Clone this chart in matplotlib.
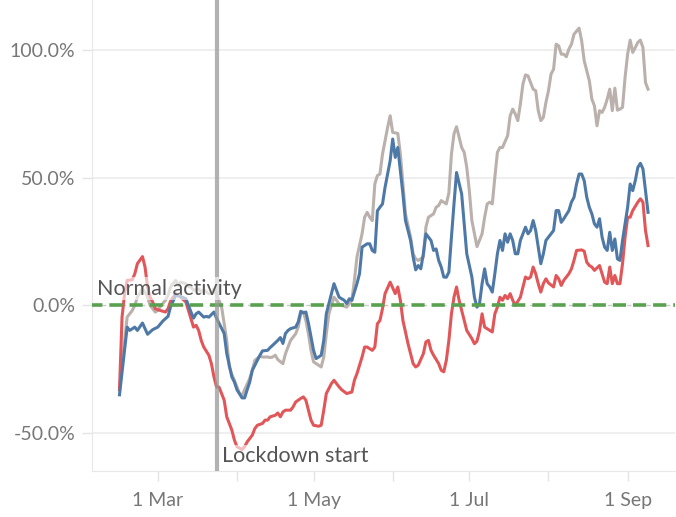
import numpy as np
import pandas as pd
import matplotlib
matplotlib.use("Agg")
import matplotlib.pyplot as plt
import matplotlib.dates as mdates

# ----------data: day of year 2020, change vs normal (%)----------
blue_days = [46, 49, 50, 52, 53, 55, 57, 59, 61, 63, 65, 66, 68, 70, 72, 73, 74, 75, 76, 77,
             79, 80, 81, 83, 84, 85, 87, 88, 90, 91, 92, 94, 95, 96, 97, 98, 100, 101, 102, 104,
             105, 106, 108, 109, 110, 111, 112, 113, 115, 116, 117, 118, 119, 120, 121, 122, 123, 124, 125, 126,
             127, 129, 130, 132, 134, 135, 136, 137, 139, 140, 141, 143, 144, 145, 146, 147, 148, 149, 150, 152,
             153, 154, 155, 156, 157, 158, 160, 161, 162, 163, 164, 165, 166, 168, 169, 170, 171, 172, 173, 174,
             175, 176, 177, 178, 180, 181, 182, 184, 185, 186, 187, 188, 189, 190, 191, 192, 193, 194, 195, 196,
             197, 198, 199, 200, 201, 202, 203, 205, 206, 207, 208, 209, 210, 211, 212, 213, 214, 216, 217, 218,
             219, 220, 222, 223, 224, 225, 226, 227, 228, 229, 230, 231, 232, 233, 234, 235, 236, 237, 238, 239,
             240, 241, 242, 243, 244, 245, 246, 247, 248, 249, 250, 251, 252, 253]
blue_vals = [-35, -8.5, -9.8, -8.5, -9.8, -6.9, -11.3, -9.5, -8.5, -6.1, -4.3, -0.6, 3.9, 3.5, 2.6, 0, -2.6, -5, -3.3, -2.6,
             -4.6, -4.3, -4.6, -2.6, -5, -7, -11, -18.8, -28, -30, -33, -36.2, -36.2, -33, -30, -25.4, -21.5, -19.5, -17.8, -17.6,
             -16.5, -15.6, -13.7, -12.6, -14.9, -11, -9.8, -9.1, -8.5, -6.5, -2.3, -2.9, -2.6, -7, -12.4, -17.6, -20.8, -20.2, -19.5, -13.7,
             -3.3, 4.6, 8.5, 3.2, 2, 0.7, 2.6, 2, 8.5, 12.4, 22.8, 24.1, 24.1, 21.5, 20.8, 37, 38.4, 39.7, 46.2, 56.6,
             65.1, 57.9, 61.8, 52.7, 43.6, 33.2, 25.4, 18.9, 13.9, 15.6, 14.3, 20.2, 28, 25.4, 21.5, 22.1, 17.6, 15, 11.1, 11,
             13, 26.7, 39.7, 52, 43.6, 31.9, 20.2, 11.1, 3.2, -0.7, 0.7, 8.5, 14.3, 8.5, 7.2, 5.2, 12.4, 20.2, 25.4, 21.5,
             28, 24.7, 28, 25.4, 20.2, 20.2, 25.4, 30.6, 28, 29.3, 33.2, 29.3, 22.8, 16.3, 20.2, 25.4, 26.7, 29.3, 37.1, 37.1,
             32.5, 33.9, 37.1, 40.4, 42.3, 47.5, 51.4, 51.4, 48.8, 42.3, 38.4, 35.8, 31.9, 30.6, 33.9, 26.7, 22.8, 21.5, 28.6, 21.5,
             26, 18.2, 17.6, 25.4, 31.9, 38.4, 47.5, 44.9, 48.8, 54, 55.6, 53.4, 44.9, 36.4]

red_days = [46, 47, 48, 49, 51, 52, 53, 55, 56, 57, 58, 59, 60, 62, 64, 65, 66, 68, 69, 70,
            72, 73, 74, 75, 76, 77, 78, 79, 81, 82, 83, 84, 85, 87, 88, 90, 91, 92, 94, 95,
            96, 98, 99, 100, 102, 103, 104, 105, 107, 108, 109, 110, 111, 113, 114, 115, 117, 118, 119, 120,
            121, 122, 124, 125, 126, 127, 129, 130, 132, 133, 135, 137, 138, 139, 141, 142, 143, 145, 146, 147,
            148, 149, 150, 152, 154, 155, 156, 157, 159, 160, 161, 162, 163, 165, 166, 167, 168, 169, 171, 172,
            173, 174, 175, 176, 177, 178, 179, 181, 182, 184, 185, 186, 187, 188, 189, 191, 192, 193, 194, 195,
            196, 197, 198, 199, 200, 201, 203, 204, 205, 206, 207, 208, 209, 210, 211, 212, 213, 214, 216, 217,
            218, 219, 220, 222, 223, 224, 225, 227, 228, 229, 230, 231, 232, 234, 235, 236, 237, 238, 239, 240,
            241, 242, 243, 244, 245, 246, 247, 249, 250, 251, 252, 253]
red_vals = [-33, -4.6, 4.6, 9.8, 10, 12.4, 16.3, 19.1, 15, 7.2, 3.2, 1.3, -1.3, -2, -2.6, -1.3, 1.7, 4.6, 3.9, 3.2,
            1.3, -2, -5.2, -8.5, -7.8, -9.8, -13.7, -16.3, -19.5, -22.8, -28, -31.9, -32, -37.1, -43.6, -48.8, -52.7, -55.3, -56.4, -55.3,
            -53.4, -50.8, -48.2, -46.9, -46.2, -44.9, -44.9, -43.6, -43, -42.1, -43.6, -41.7, -41, -41, -39.7, -37.8, -36.4, -35.8, -37.1, -41,
            -44.9, -46.9, -47.3, -46.9, -41, -34.5, -30.6, -29.3, -31.9, -33, -34.5, -33.9, -29.3, -26.7, -20.2, -16.3, -16.3, -17.6, -16.3, -7.2,
            -5.9, -1.3, 4.6, 9.1, 4.6, 7.2, 2, -5.9, -15, -18.9, -22.8, -24.1, -23.4, -18.9, -14.3, -13.7, -17.6, -19.5, -22.8, -25.4,
            -26, -21.5, -13.7, -3.3, 3.2, 7.2, 2, -5.9, -9.8, -13, -15, -14, -10, -3.3, -8.5, -9.8, -10.4, -3.3, -0.7, 3.2,
            2, 3.9, 2.6, 4.6, 2, 0, 3.2, 7.2, 11.1, 10.4, 11.1, 15, 12.4, 8.5, 5.2, 8.5, 10.4, 8.8, 7.2, 11.7,
            10.4, 7.8, 9.8, 12.4, 14.3, 17.6, 21.5, 21.7, 21.2, 16.9, 15.6, 15, 13.7, 15.6, 12.4, 9.1, 8.5, 15, 8.5, 11.7,
            8.5, 8.5, 16.3, 26.7, 34.5, 34.5, 37.1, 40.4, 41.7, 40.4, 29.3, 23.4]

grey_days = [46, 48, 49, 51, 52, 53, 55, 56, 57, 58, 60, 61, 62, 64, 65, 66, 68, 69, 70, 72,
             73, 74, 75, 77, 78, 79, 81, 82, 83, 85, 86, 87, 88, 89, 90, 91, 92, 93, 94, 95,
             97, 98, 99, 101, 102, 104, 105, 106, 107, 108, 110, 111, 112, 113, 115, 116, 117, 118, 119, 120,
             121, 122, 124, 125, 126, 127, 128, 130, 131, 132, 135, 137, 138, 139, 141, 142, 143, 144, 145, 146,
             147, 148, 149, 151, 152, 153, 155, 156, 157, 158, 160, 161, 162, 163, 165, 166, 167, 169, 170, 171,
             172, 174, 175, 176, 177, 178, 180, 181, 182, 183, 184, 186, 188, 189, 190, 191, 192, 193, 194, 195,
             196, 198, 199, 200, 201, 202, 203, 204, 205, 206, 208, 209, 210, 211, 212, 213, 214, 215, 216, 217,
             218, 219, 220, 221, 222, 223, 224, 226, 227, 228, 230, 231, 232, 233, 234, 235, 236, 237, 238, 239,
             240, 241, 242, 243, 244, 245, 246, 247, 248, 249, 250, 251, 252, 253]
grey_vals = [-33, -13.7, -4.6, -2, 0, 3.2, 6.5, 5.2, 3.2, 0, -2.6, -2, -0.4, 2, 3.9, 7.2, 9.8, 7.8, 9.1, 8.5,
             7.4, 7.2, 5.9, 6.5, 5.2, 6, 4.6, 4.6, 6.5, 2, -0.7, -7.2, -13.7, -24.1, -27, -29.3, -31.9, -34.5, -35.2, -33,
             -28.6, -25.4, -21.5, -19.9, -20.2, -20.2, -20.4, -20.2, -19.5, -21.2, -22.8, -18.9, -16.3, -13.7, -11.1, -8.5, -3.3, -2.6, -5.9, -11.1,
             -17.6, -22.1, -23.4, -24.1, -20.2, -11.1, -3.3, 3.2, 2, 0.5, -0.7, 2, 9.8, 18.9, 28, 34.5, 36.4, 34.5, 33.2, 47.5,
             50.8, 51.4, 59.2, 69.6, 74.2, 67.7, 67.3, 59.2, 47.5, 35.8, 26.7, 20.2, 18.2, 17.6, 18.9, 30.6, 34.5, 35.8, 38.4, 39.1,
             41, 39.7, 44, 59.2, 67.1, 69.9, 61.8, 59.9, 54, 44.9, 33.2, 23, 28, 34.5, 39.7, 40.4, 39.7, 50.1, 59.9, 61.8,
             61.8, 66.4, 74.2, 76.8, 74.9, 72.3, 78.8, 86.6, 90.2, 89.8, 84.6, 84, 76.2, 72.3, 73.6, 79.4, 84, 90.5, 92.4, 102.2,
             101.6, 98.3, 98.3, 97.3, 100.3, 102.2, 106.1, 108.5, 103.5, 95.7, 87.9, 80.7, 78.1, 70.3, 76.2, 75.5, 77.5, 80.7, 84.6, 76.2,
             85, 76.4, 76.8, 77.5, 89.2, 98.3, 103.8, 99, 100.9, 102.9, 103.8, 100.9, 87.2, 84.6]

lockdown_day = "2020-03-24"
y_ticks = [-50, 0, 50, 100]


def to_dates(days):
    """
    type days: list (day of year 2020)
    rtype: DatetimeIndex
    """
    return pd.Timestamp("2020-01-01") + pd.to_timedelta(np.array(days) - 1, unit="D")


def main():
    plt.rcParams['font.family'] = ['Lato', 'DejaVu Sans']
    plt.rcParams['lines.scale_dashes'] = False
    fig = plt.figure(figsize=(6.76, 5.17), dpi=100)
    ax = fig.add_axes([0.136, 0.089, 0.862, 0.911])

    # ----------grid and reference lines----------
    for v in y_ticks:
        if v != 0:
            ax.axhline(v, color='#ececec', lw=1.2, zorder=0)
    ax.axhline(0, color='#c8c8c8', lw=1, linestyle=(0, (3, 4)), zorder=1)
    ax.axhline(0, color='#59a14f', lw=2.6, linestyle=(2, (9.5, 5)), zorder=4)

    # ----------series----------
    ax.plot(to_dates(grey_days), grey_vals, color='#bab0ac', lw=2.2, zorder=2)
    ax.plot(to_dates(red_days), red_vals, color='#e15759', lw=2.2, zorder=2)
    ax.plot(to_dates(blue_days), blue_vals, color='#4e79a7', lw=2.2, zorder=3)

    ax.axvline(pd.Timestamp(lockdown_day), color='#999999', lw=3, alpha=0.75, zorder=5)

    # ----------labels----------
    box = dict(facecolor='white', edgecolor='none', alpha=0.6, pad=1)
    ax.text(pd.Timestamp("2020-02-06"), 6.5, "Normal activity", fontsize=15.5,
            color='#555555', va='center', ha='left', bbox=box, zorder=6)
    ax.text(pd.Timestamp("2020-03-26"), -59, "Lockdown start", fontsize=15.5,
            color='#555555', va='center', ha='left', bbox=box, zorder=6)

    # ----------axes----------
    ax.set_xlim(pd.Timestamp("2020-02-04 05:00"), pd.Timestamp("2020-09-19 10:00"))
    ax.set_ylim(-64.8, 119.5)
    ax.set_yticks(y_ticks)
    ax.set_yticklabels([f"{v:.1f}%" for v in y_ticks])
    ax.xaxis.set_major_locator(mdates.MonthLocator(bymonth=[3, 5, 7, 9]))
    ax.xaxis.set_minor_locator(mdates.MonthLocator())
    ax.xaxis.set_major_formatter(mdates.DateFormatter('%-d %b'))
    ax.tick_params(axis='both', which='both', color='#e4e4e4', labelcolor='#777777',
                   labelsize=14)
    ax.tick_params(axis='x', which='both', length=7, width=1, pad=8)
    ax.tick_params(axis='y', length=7, width=1, pad=5)
    for side in ['top', 'right']:
        ax.spines[side].set_visible(False)
    for side in ['left', 'bottom']:
        ax.spines[side].set_color('#e8e8e8')

    fig.savefig("out.png", dpi=100)


if __name__ == '__main__':
    main()
